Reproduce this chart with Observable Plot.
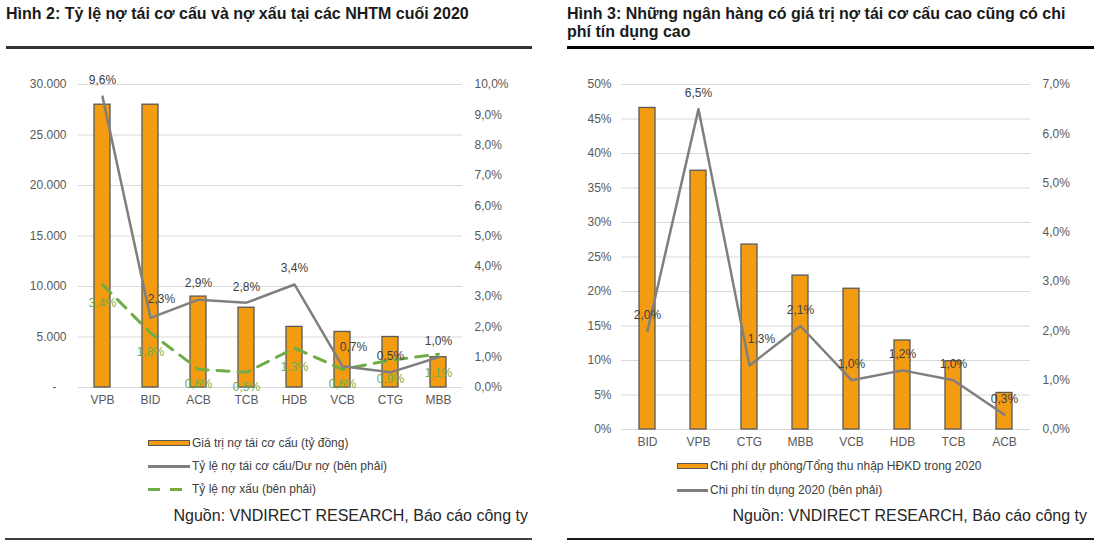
<!DOCTYPE html>
<html><head><meta charset="utf-8">
<script src="https://cdn.jsdelivr.net/npm/d3@7"></script>
<script src="https://cdn.jsdelivr.net/npm/@observablehq/plot@0.6"></script>
<style>
body{margin:0;background:#fff;font-family:"Liberation Sans",Arial,sans-serif;}
#wrap{position:relative;width:1097px;height:544px;overflow:hidden;background:#fff;}
.abs{position:absolute;}
.title{position:absolute;font-weight:bold;font-size:16px;line-height:18px;color:#1a1a1a;white-space:nowrap;}
.legtxt{position:absolute;font-size:12px;line-height:14px;color:#404040;white-space:nowrap;}
.src{position:absolute;font-size:16px;line-height:18px;color:#262626;white-space:nowrap;text-align:right;}
.chart{position:absolute;}
.chart svg{display:block;}
</style></head>
<body><div id="wrap">
  <div class="title" style="left:6px;top:5px;">Hình 2: Tỷ lệ nợ tái cơ cấu và nợ xấu tại các NHTM cuối 2020</div>
  <div class="abs" style="left:6px;top:46px;width:526px;height:3px;background:#333;"></div>
  <div class="title" style="left:567px;top:5px;">Hình 3: Những ngân hàng có giá trị nợ tái cơ cấu cao cũng có chi<br>phí tín dụng cao</div>
  <div class="abs" style="left:567px;top:46px;width:527px;height:3px;background:#000;"></div>

  <div id="c2a" class="chart" style="left:0;top:60px;"></div>
  <div id="c2b" class="chart" style="left:0;top:60px;"></div>
  <div id="c3a" class="chart" style="left:560px;top:60px;"></div>
  <div id="c3b" class="chart" style="left:560px;top:60px;"></div>

  <!-- legend left -->
  <div class="abs" style="left:148px;top:440px;width:42px;height:6px;background:#F39C12;border:1.3px solid #595959;box-sizing:border-box;"></div>
  <div class="legtxt" id="lg2a" style="left:192px;top:436px;"></div>
  <div class="abs" style="left:148px;top:464.5px;width:42px;height:3px;background:#7f7f7f;"></div>
  <div class="legtxt" id="lg2b" style="left:192px;top:459px;"></div>
  <div class="abs" style="left:148px;top:487.5px;width:12px;height:3px;background:#70AD47;"></div>
  <div class="abs" style="left:170px;top:487.5px;width:12px;height:3px;background:#70AD47;"></div>
  <div class="legtxt" id="lg2c" style="left:192px;top:482px;"></div>
  <!-- legend right -->
  <div class="abs" style="left:677px;top:463px;width:31px;height:6px;background:#F39C12;border:1.3px solid #595959;box-sizing:border-box;"></div>
  <div class="legtxt" id="lg3a" style="left:710px;top:459px;"></div>
  <div class="abs" style="left:677px;top:488.5px;width:31px;height:3px;background:#7f7f7f;"></div>
  <div class="legtxt" id="lg3b" style="left:710px;top:483px;"></div>

  <div class="src" style="right:569px;top:507px;">Nguồn: VNDIRECT RESEARCH, Báo cáo công ty</div>
  <div class="src" style="right:10px;top:507px;">Nguồn: VNDIRECT RESEARCH, Báo cáo công ty</div>
  <div class="abs" style="left:5px;top:538px;width:527px;height:2px;background:#404040;"></div>
  <div class="abs" style="left:567px;top:538px;width:527px;height:2px;background:#1a1a1a;"></div>
</div>
<script>
// ---------- Data: Hình 2 ----------
const banks2 = ["VPB","BID","ACB","TCB","HDB","VCB","CTG","MBB"];
const restructuredValue = [28000, 28000, 9000, 7900, 6000, 5500, 5000, 3000]; // tỷ đồng
const restructuredRatio = [9.6, 2.3, 2.9, 2.8, 3.4, 0.7, 0.5, 1.0];          // % (bên phải)
const nplRatio = [3.4, 1.8, 0.6, 0.5, 1.3, 0.6, 0.9, 1.1];                   // % (bên phải)
const leftTicks2 = [0, 5000, 10000, 15000, 20000, 25000, 30000];
const rightTicks2 = [0, 1, 2, 3, 4, 5, 6, 7, 8, 9, 10];
const legend2 = ["Giá trị nợ tái cơ cấu (tỷ đồng)", "Tỷ lệ nợ tái cơ cấu/Dư nợ (bên phải)", "Tỷ lệ nợ xấu (bên phải)"];

// ---------- Data: Hình 3 ----------
const banks3 = ["BID","VPB","CTG","MBB","VCB","HDB","TCB","ACB"];
const provisionShare = [46.6, 37.5, 26.8, 22.3, 20.4, 12.9, 9.9, 5.3];      // %
const creditCost = [2.0, 6.5, 1.3, 2.1, 1.0, 1.2, 1.0, 0.3];                 // % (bên phải)
const leftTicks3 = [0, 5, 10, 15, 20, 25, 30, 35, 40, 45, 50];
const rightTicks3 = [0, 1, 2, 3, 4, 5, 6, 7];
const legend3 = ["Chi phí dự phòng/Tổng thu nhập HĐKD trong 2020", "Chi phí tín dụng 2020 (bên phải)"];

document.getElementById("lg2a").textContent = legend2[0];
document.getElementById("lg2b").textContent = legend2[1];
document.getElementById("lg2c").textContent = legend2[2];
document.getElementById("lg3a").textContent = legend3[0];
document.getElementById("lg3b").textContent = legend3[1];

const pct1 = v => v.toFixed(1).replace(".", ",") + "%";
const thousands = d => d === 0 ? "-\u00a0\u00a0\u00a0" : d3.format(",")(d).replace(/,/g, ".");
const style = {fontFamily: "'Liberation Sans', Arial, sans-serif", fontSize: "12px", color: "#595959", background: "transparent", overflow: "visible"};
const BAR = "#F39C12", EDGE = "#595959", GRAY = "#7f7f7f", GREEN = "#70AD47";

// ---------- Hình 2 ----------
const t2 = banks2.map((b, i) => ({bank: b, value: restructuredValue[i], ratio: restructuredRatio[i], npl: nplRatio[i]}));
const dim2 = {width: 540, height: 357, marginTop: 24, marginBottom: 30, marginLeft: 78, marginRight: 78};
const x2 = {type: "band", domain: banks2, paddingInner: 0.675, paddingOuter: 0.3375, label: null};

document.getElementById("c2a").append(Plot.plot({
  ...dim2, style,
  x: x2,
  y: {domain: [0, 30000], label: null},
  marks: [
    Plot.gridY(leftTicks2, {stroke: "#d9d9d9", strokeOpacity: 1}),
    Plot.axisY(leftTicks2, {tickSize: 0, tickPadding: 12, tickFormat: thousands, label: null}),
    Plot.axisX({tickSize: 0, tickPadding: 8, label: null}),
    Plot.barY(t2, {x: "bank", y: "value", fill: BAR, stroke: EDGE, strokeWidth: 1.3})
  ]
}));

const special2 = ["BID", "VCB"];
const lowGreen = ["ACB", "TCB", "VCB"];
document.getElementById("c2b").append(Plot.plot({
  ...dim2, style,
  x: {...x2, axis: null},
  y: {domain: [0, 10], label: null},
  marks: [
    Plot.axisY(rightTicks2, {anchor: "right", tickSize: 0, tickPadding: 12, tickFormat: pct1, label: null}),
    Plot.line(t2, {x: "bank", y: "npl", stroke: GREEN, strokeWidth: 3, strokeDasharray: "12,9"}),
    Plot.line(t2, {x: "bank", y: "ratio", stroke: GRAY, strokeWidth: 2.5}),
    Plot.text(t2.filter(d => !lowGreen.includes(d.bank)), {x: "bank", y: "npl", text: d => pct1(d.npl), dy: 19, fill: GREEN, fontSize: 12}),
    Plot.text(t2.filter(d => lowGreen.includes(d.bank)), {x: "bank", y: "npl", text: d => pct1(d.npl), dy: 15, fill: GREEN, fontSize: 12}),
    Plot.text(t2.filter(d => !special2.includes(d.bank)), {x: "bank", y: "ratio", text: d => pct1(d.ratio), dy: -16, fill: "#404040", fontSize: 12}),
    Plot.text(t2.filter(d => special2.includes(d.bank)), {x: "bank", y: "ratio", text: d => pct1(d.ratio), dx: 11, dy: -19, fill: "#404040", fontSize: 12})
  ]
}));

// ---------- Hình 3 ----------
const t3 = banks3.map((b, i) => ({bank: b, share: provisionShare[i], cost: creditCost[i]}));
const dim3 = {width: 537, height: 399, marginTop: 24, marginBottom: 30, marginLeft: 61, marginRight: 67};
const x3 = {type: "band", domain: banks3, paddingInner: 0.695, paddingOuter: 0.3475, label: null};

document.getElementById("c3a").append(Plot.plot({
  ...dim3, style,
  x: x3,
  y: {domain: [0, 50], label: null},
  marks: [
    Plot.gridY(leftTicks3, {stroke: "#d9d9d9", strokeOpacity: 1}),
    Plot.axisY(leftTicks3, {tickSize: 0, tickPadding: 10, tickFormat: d => d + "%", label: null}),
    Plot.axisX({tickSize: 0, tickPadding: 8, label: null}),
    Plot.barY(t3, {x: "bank", y: "share", fill: BAR, stroke: EDGE, strokeWidth: 1.3})
  ]
}));

const special3 = ["CTG"];
document.getElementById("c3b").append(Plot.plot({
  ...dim3, style,
  x: {...x3, axis: null},
  y: {domain: [0, 7], label: null},
  marks: [
    Plot.axisY(rightTicks3, {anchor: "right", tickSize: 0, tickPadding: 12, tickFormat: pct1, label: null}),
    Plot.line(t3, {x: "bank", y: "cost", stroke: GRAY, strokeWidth: 2.5}),
    Plot.text(t3.filter(d => !special3.includes(d.bank)), {x: "bank", y: "cost", text: d => pct1(d.cost), dy: -16, fill: "#404040", fontSize: 12}),
    Plot.text(t3.filter(d => special3.includes(d.bank)), {x: "bank", y: "cost", text: d => pct1(d.cost), dx: 12, dy: -26, fill: "#404040", fontSize: 12})
  ]
}));
</script>
</body></html>
